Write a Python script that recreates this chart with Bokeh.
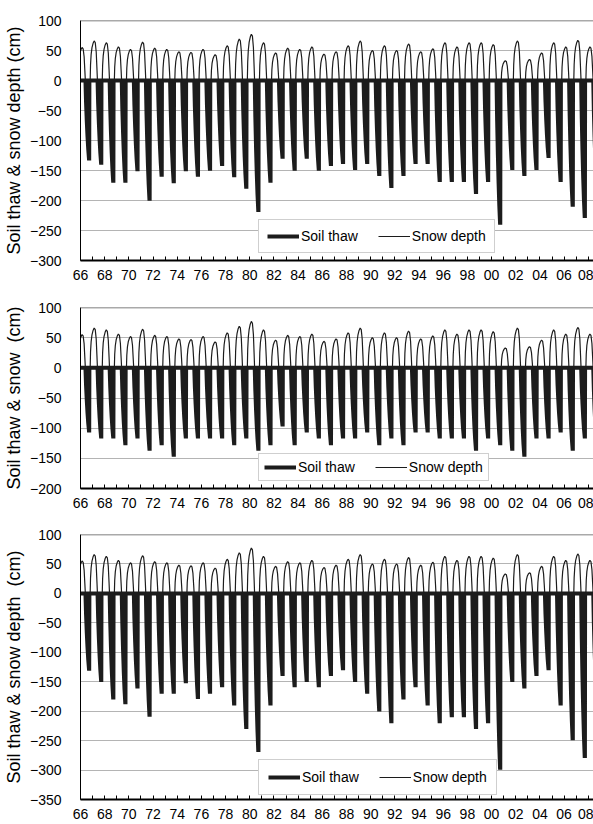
from bokeh.plotting import figure
from bokeh.models import FixedTicker, Legend, LegendItem, Span, Range1d
from bokeh.layouts import column
from bokeh.embed import file_html
from bokeh.resources import INLINE

# ---------------- data ----------------
years = list(range(1966, 2009))            # thaw seasons
winters = list(range(1965, 2008))          # winter labelled by its autumn year

snow_peak = [55, 66, 63, 56, 52, 64, 54, 52, 48, 47,
             52, 43, 58, 69, 77, 63, 46, 54, 52, 56,
             44, 48, 58, 66, 50, 58, 50, 61, 48, 53,
             63, 56, 63, 63, 60, 33, 66, 35, 46, 63,
             56, 67, 56]

thaw_top = [-130, -137, -167, -167, -148, -197, -157, -168, -148, -157,
            -147, -139, -158, -177, -216, -167, -127, -147, -127, -147,
            -139, -136, -146, -136, -156, -176, -156, -136, -136, -166,
            -166, -166, -186, -166, -237, -146, -156, -146, -126, -166,
            -207, -226, -180]

thaw_mid = [-104, -114, -114, -125, -114, -134, -125, -144, -114, -114,
            -114, -114, -125, -114, -134, -125, -94, -125, -104, -114,
            -125, -114, -114, -104, -125, -114, -125, -104, -104, -114,
            -114, -114, -134, -114, -125, -134, -144, -114, -114, -104,
            -134, -114, -130]

thaw_bot = [-128, -147, -177, -185, -158, -206, -167, -167, -149, -176,
            -167, -156, -187, -227, -266, -187, -137, -156, -147, -156,
            -137, -127, -147, -167, -197, -217, -177, -156, -187, -217,
            -207, -207, -227, -217, -296, -147, -158, -137, -127, -187,
            -246, -276, -180]

# seasonal course (fraction of year, fraction of the seasonal extreme)
thaw_shape_t = [0.41, 0.46, 0.52, 0.58, 0.64, 0.70, 0.72, 0.735]
thaw_shape_f = [0.0, 0.28, 0.52, 0.72, 0.88, 1.0, 1.0, 0.0]
snow_shape_t = [0.80, 0.83, 0.88, 0.95, 1.04, 1.13, 1.22, 1.30, 1.36, 1.40]
snow_shape_f = [0.0, 0.40, 0.66, 0.83, 0.94, 1.0, 0.96, 0.72, 0.30, 0.0]

x_labels = {y: f"{y % 100:02d}" for y in range(1966, 2009, 2)}


def thaw_series(vals):
    xs, ys = [1966.0], [0.0]
    for yr, v in zip(years, vals):
        for t, f in zip(thaw_shape_t, thaw_shape_f):
            xs.append(yr + t)
            ys.append(v * f)
    xs.append(2009.0)
    ys.append(0.0)
    return xs, ys


def snow_series():
    xs, ys = [], []
    for w, v in zip(winters, snow_peak):
        for t, f in zip(snow_shape_t, snow_shape_f):
            xs.append(w + t)
            ys.append(v * f)
    return xs, ys


FONT = "Liberation Sans"
INK = "#1c1c1c"


def make_panel(vals, ymin, title, height, border_top, border_bottom, legend_pad, legend_y):
    p = figure(width=593, height=height, output_backend="svg", toolbar_location=None,
               x_range=Range1d(1966, 2008.43), y_range=Range1d(ymin, 100),
               min_border_left=78, min_border_right=0, min_border_top=border_top,
               min_border_bottom=border_bottom)
    p.outline_line_color = None
    p.background_fill_color = "white"
    p.border_fill_color = "white"

    yt = list(range(ymin, 101, 50))
    p.yaxis.ticker = FixedTicker(ticks=yt)
    p.yaxis.major_label_overrides = {v: (f"\u2212{abs(v)}" if v < 0 else str(v)) for v in yt}
    p.yaxis.major_tick_line_color = None
    p.yaxis.minor_tick_line_color = None
    p.yaxis.axis_line_color = "black"
    p.yaxis.axis_line_width = 1
    p.yaxis.major_label_standoff = 13
    p.yaxis.major_label_text_font = FONT
    p.yaxis.major_label_text_font_size = "14px"
    p.yaxis.major_label_text_color = "black"
    p.yaxis.axis_label = title
    p.yaxis.axis_label_text_font = FONT
    p.yaxis.axis_label_text_font_size = "18px"
    p.yaxis.axis_label_text_font_style = "normal"
    p.yaxis.axis_label_text_color = "black"
    p.yaxis.axis_label_standoff = 3

    p.xaxis.ticker = FixedTicker(ticks=list(range(1966, 2009, 2)),
                                 minor_ticks=list(range(1967, 2009, 2)))
    p.xaxis.major_label_overrides = x_labels
    p.xaxis.major_tick_in = 4
    p.xaxis.major_tick_out = 0
    p.xaxis.minor_tick_in = 4
    p.xaxis.minor_tick_out = 0
    p.xaxis.major_tick_line_color = "black"
    p.xaxis.minor_tick_line_color = "black"
    p.xaxis.axis_line_color = "black"
    p.xaxis.axis_line_width = 2
    p.xaxis.major_label_standoff = 9
    p.xaxis.major_label_text_font = FONT
    p.xaxis.major_label_text_font_size = "14px"
    p.xaxis.major_label_text_color = "black"

    p.xgrid.visible = False
    p.ygrid.grid_line_color = "#b4b4b4"
    p.ygrid.grid_line_width = 1

    p.add_layout(Span(location=100, dimension="width", line_color="#555555", line_width=1.5))

    tx, ty = thaw_series(vals)
    sx, sy = snow_series()
    r_thaw = p.line(tx, ty, line_color=INK, line_width=4, line_join="miter")
    r_snow = p.line(sx, sy, line_color=INK, line_width=1.2)

    legend = Legend(items=[LegendItem(label="Soil thaw", renderers=[r_thaw]),
                           LegendItem(label="Snow depth", renderers=[r_snow])],
                    orientation="horizontal", location=(178, legend_y),
                    glyph_width=32, glyph_height=16, label_height=16,
                    label_standoff=2, spacing=20, padding=legend_pad, margin=0,
                    border_line_color="#a0a0a0", border_line_width=1,
                    background_fill_color="white", background_fill_alpha=1,
                    label_text_font=FONT, label_text_font_size="14px",
                    label_text_color="black")
    p.add_layout(legend)
    return p


p1 = make_panel(thaw_top, -300, "Soil thaw & snow depth (cm)", 295, 20, 35, 8, 7)
p2 = make_panel(thaw_mid, -200, "Soil thaw & snow\u00a0 (cm)", 227, 12, 34, 5, 7)
p3 = make_panel(thaw_bot, -350, "Soil thaw & snow depth\u00a0 (cm)", 302, 12, 25, 9, 4)

layout = column(p1, p2, p3, spacing=0)
open("out.html", "w").write(file_html(layout, INLINE))
